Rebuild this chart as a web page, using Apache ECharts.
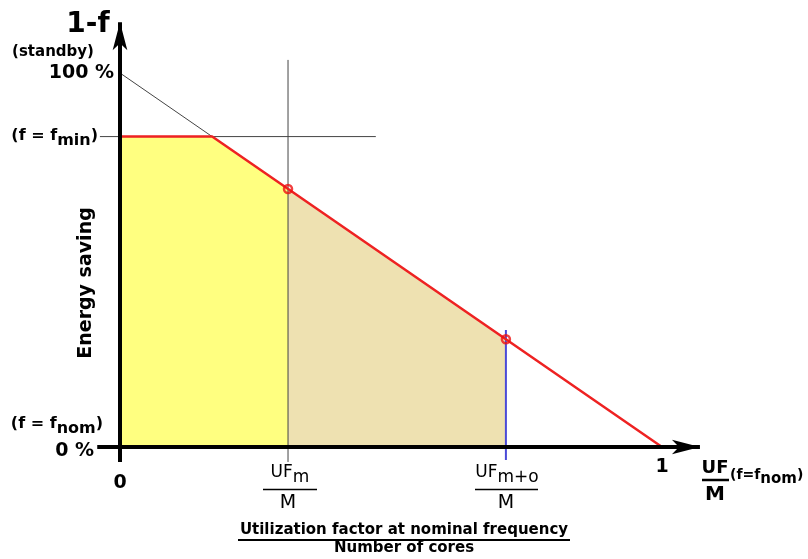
<!DOCTYPE html>
<html>
<head>
<meta charset="utf-8">
<script src="https://cdn.jsdelivr.net/npm/echarts@6/dist/echarts.min.js"></script>
<style>html,body{margin:0;padding:0;background:#fff;}#c{width:808px;height:559px;}</style>
</head>
<body>
<div id="c"></div>
<script>
// ---- data (normalized: x = UF/M, y = 1-f) ----
const redLine = [[0, 0.83], [0.17, 0.83], [1, 0]];
const yellowArea = [[0, 0.83], [0.17, 0.83], [0.31, 0.69]];
const tanArea = [[0.31, 0.69], [0.712, 0.288]];
const markerPoints = [[0.31, 0.69], [0.712, 0.288]];
const guideDiagonal = [[0, 1], [0.17, 0.83]];
const guideFmin = [[-0.037, 0.83], [0.472, 0.83]];
const guideUm = [[0.31, 1.035], [0.31, -0.04]];
const guideUmo = [[0.712, 0.313], [0.712, -0.035]];
const xAxisLine = [[-0.042, 0], [1.07, 0]];
const yAxisLine = [[0, -0.04], [0, 1.136]];

const FONT = 'DejaVu Sans';
const chart = echarts.init(document.getElementById('c'));

function seg(pts, color, width) {
  return {
    type: 'line', data: pts, symbol: 'none', silent: true, animation: false,
    lineStyle: { color: color, width: width }, z: 3
  };
}
function arrowAxis(pts) {
  return {
    type: 'line', data: [], symbol: 'none', silent: true, animation: false,
    markLine: {
      silent: true, animation: false, symbol: ['none', 'arrow'], symbolSize: [11, 28],
      label: { show: false },
      lineStyle: { color: '#000', width: 4, type: 'solid' },
      data: [[{ coord: pts[0] }, { coord: pts[1] }]]
    }, z: 6
  };
}
function sub(text, x, y, size, subSize, align, weight, drop) {
  return { type: 'text', x: x, y: y, style: {
    text: text, align: align, verticalAlign: 'middle',
    rich: { a: { font: weight + ' ' + size + 'px ' + FONT, fill: '#000', height: size + 6, verticalAlign: 'middle' },
            b: { font: weight + ' ' + subSize + 'px ' + FONT, fill: '#000', height: size + 6, padding: [drop, 0, 0, 0], verticalAlign: 'middle' } } } };
}

const option = {
  animation: false,
  grid: { left: 92.9, right: 91.8, top: 16.9, bottom: 93.3 },
  xAxis: { type: 'value', min: -0.05, max: 1.1, show: false },
  yAxis: { type: 'value', min: -0.05, max: 1.15, show: false },
  series: [
    { type: 'line', data: yellowArea, symbol: 'none', lineStyle: { width: 0 },
      areaStyle: { color: '#ffff80', opacity: 1, origin: 'auto' }, z: 1 },
    { type: 'line', data: tanArea, symbol: 'none', lineStyle: { width: 0 },
      areaStyle: { color: '#eee1b1', opacity: 1, origin: 'auto' }, z: 1 },
    seg(guideDiagonal, '#444', 1),
    seg(guideFmin, '#444', 1),
    seg(guideUm, '#444', 1),
    seg(guideUmo, '#4a4ad8', 2),
    Object.assign(seg(redLine, '#ee2222', 2.5), { z: 4 }),
    { type: 'scatter', data: markerPoints, symbol: 'circle', symbolSize: 8,
      itemStyle: { color: 'rgba(255,255,255,0)', borderColor: '#ee1111', borderWidth: 2.5 }, z: 7 },
    arrowAxis(xAxisLine),
    arrowAxis(yAxisLine)
  ],
  graphic: [
    { type: 'text', x: 88, y: 25, style: { text: '1-f', font: 'bold 28px ' + FONT, fill: '#000', align: 'center', verticalAlign: 'middle' } },
    { type: 'text', x: 53, y: 52, style: { text: '(standby)', font: 'bold 15px ' + FONT, fill: '#000', align: 'center', verticalAlign: 'middle' } },
    { type: 'text', x: 114, y: 73, style: { text: '100 %', font: 'bold 19px ' + FONT, fill: '#000', align: 'right', verticalAlign: 'middle' } },
    sub('{a|(f = f}{b|min}{a|)}', 98, 136, 16, 16, 'right', 'bold', 10),
    sub('{a|(f = f}{b|nom}{a|)}', 103, 424, 16, 16, 'right', 'bold', 10),
    { type: 'text', x: 94, y: 451, style: { text: '0 %', font: 'bold 19px ' + FONT, fill: '#000', align: 'right', verticalAlign: 'middle' } },
    { type: 'text', x: 120, y: 483, style: { text: '0', font: 'bold 19px ' + FONT, fill: '#000', align: 'center', verticalAlign: 'middle' } },
    { type: 'text', x: 662, y: 467, style: { text: '1', font: 'bold 19px ' + FONT, fill: '#000', align: 'center', verticalAlign: 'middle' } },
    { type: 'text', x: 86, y: 283, rotation: Math.PI / 2, style: { text: 'Energy saving', font: 'bold 19px ' + FONT, fill: '#000', align: 'center', verticalAlign: 'middle' } },
    // UF_m / M
    sub('{a|UF}{b|m}', 290, 473, 17, 17, 'center', 'normal', 10),
    { type: 'line', shape: { x1: 263, y1: 489.5, x2: 317, y2: 489.5 }, style: { stroke: '#000', lineWidth: 1.5 } },
    { type: 'text', x: 288, y: 503, style: { text: 'M', font: '19px ' + FONT, fill: '#000', align: 'center', verticalAlign: 'middle' } },
    // UF_m+o / M
    sub('{a|UF}{b|m+o}', 507, 473, 17, 17, 'center', 'normal', 10),
    { type: 'line', shape: { x1: 475, y1: 489.5, x2: 538, y2: 489.5 }, style: { stroke: '#000', lineWidth: 1.5 } },
    { type: 'text', x: 506, y: 503, style: { text: 'M', font: '19px ' + FONT, fill: '#000', align: 'center', verticalAlign: 'middle' } },
    // UF / M (f = f_nom)
    { type: 'text', x: 715, y: 468, style: { text: 'UF', font: 'bold 18px ' + FONT, fill: '#000', align: 'center', verticalAlign: 'middle' } },
    { type: 'line', shape: { x1: 702, y1: 480, x2: 729, y2: 480 }, style: { stroke: '#000', lineWidth: 2.5 } },
    { type: 'text', x: 715, y: 495, style: { text: 'M', font: 'bold 20px ' + FONT, fill: '#000', align: 'center', verticalAlign: 'middle' } },
    sub('{a|(f=f}{b|nom}{a|)}', 730, 475, 14, 15, 'left', 'bold', 9),
    // bottom title
    { type: 'text', x: 404, y: 530, style: { text: 'Utilization factor at nominal frequency', font: 'bold 15px ' + FONT, fill: '#000', align: 'center', verticalAlign: 'middle' } },
    { type: 'line', shape: { x1: 238, y1: 540, x2: 570, y2: 540 }, style: { stroke: '#000', lineWidth: 2 } },
    { type: 'text', x: 404, y: 548, style: { text: 'Number of cores', font: 'bold 15px ' + FONT, fill: '#000', align: 'center', verticalAlign: 'middle' } }
  ]
};
chart.setOption(option);
</script>
</body>
</html>
